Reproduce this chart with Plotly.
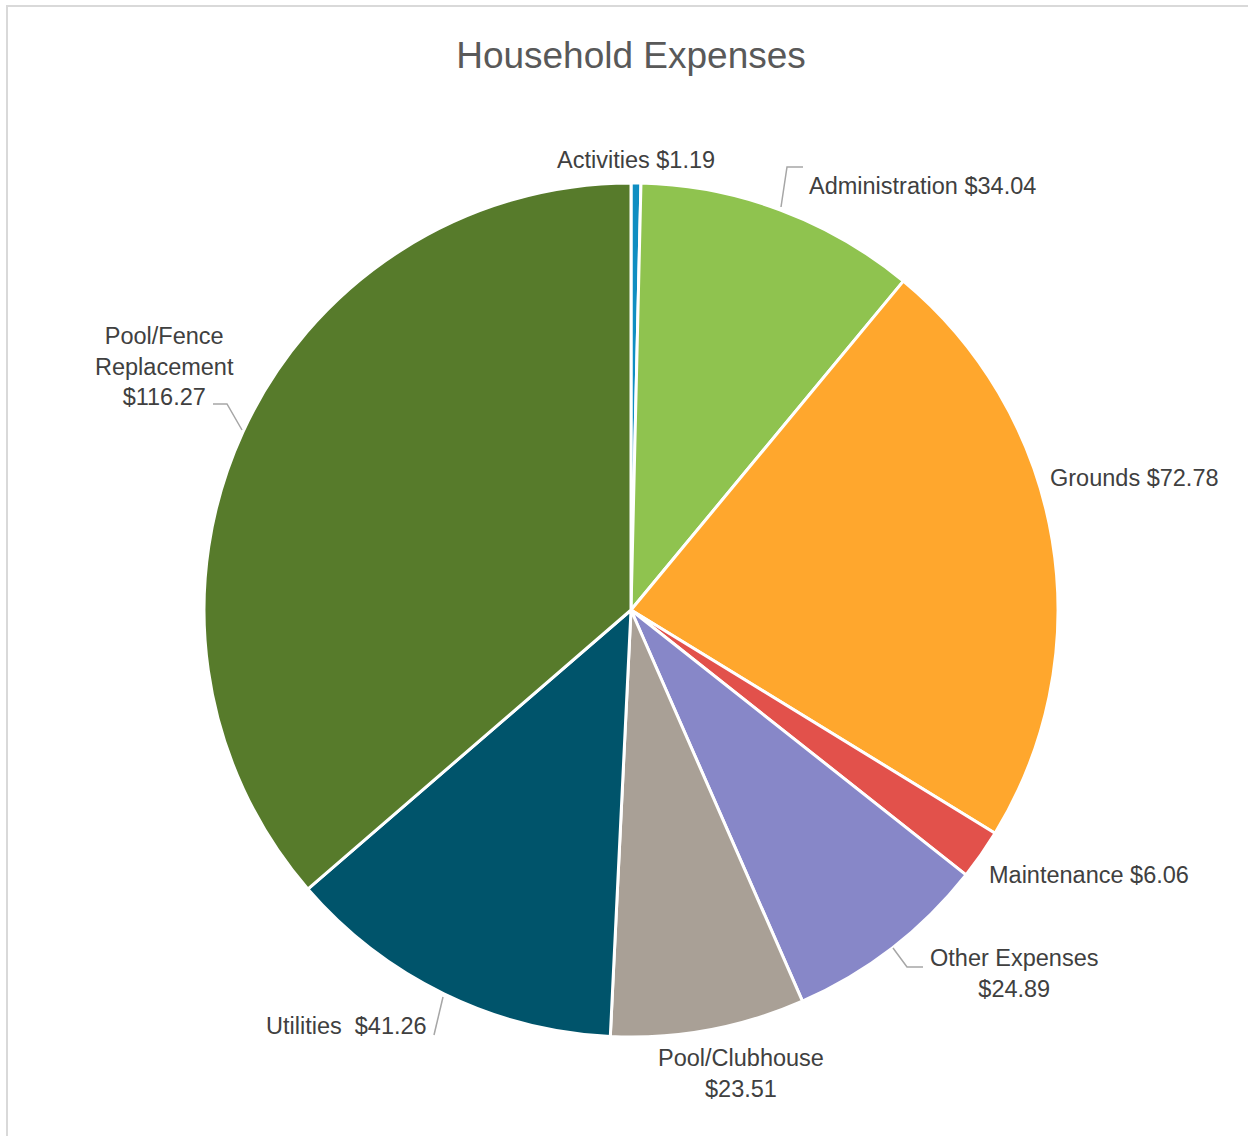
import plotly.graph_objects as go

categories = ["Activities", "Administration", "Grounds", "Maintenance",
              "Other Expenses", "Pool/Clubhouse", "Utilities", "Pool/Fence Replacement"]
values = [1.19, 34.04, 72.78, 6.06, 24.89, 23.51, 41.26, 116.27]
colors = ["#0f8ec2", "#8fc34f", "#ffa72d", "#e2514b", "#8787c8", "#a9a096", "#00546b", "#577b2b"]

# label texts (as shown on the chart)
label_texts = ["Activities $1.19", "Administration $34.04", "Grounds $72.78",
               "Maintenance $6.06", "Other Expenses<br>$24.89", "Pool/Clubhouse<br>$23.51",
               "Utilities\u00a0\u00a0$41.26", "Pool/Fence<br>Replacement<br>$116.27"]

W, H = 1248, 1136
L, T, PW, PH = 204, 182, 854, 856
R, B = W - L - PW, H - T - PH


def px(x):
    return (x - L) / PW


def py(y):
    return 1 - (y - T) / PH


fig = go.Figure(go.Pie(
    labels=categories, values=values, sort=False, direction="clockwise", rotation=0,
    marker=dict(colors=colors, line=dict(color="white", width=3)),
    textinfo="none", hoverinfo="label+value", showlegend=False,
))

# label placement (pixel anchors) and leader lines
label_pos = [(636, 160, "center"), (807, 186, "left"), (1048, 478, "left"),
             (987, 875, "left"), (1014, 973, "center"), (741, 1073, "center"),
             (264, 1026, "left"), (164, 366, "center")]
leaders = [
    [(781, 207), (787, 167), (803, 167)],
    [(893, 948), (907, 967), (923, 967)],
    [(443, 997), (434, 1035)],
    [(242, 430), (227, 404), (213, 404)],
]

annotations = []
for txt, (x, y, anc) in zip(label_texts, label_pos):
    annotations.append(dict(
        text=txt, x=px(x), y=py(y), xref="paper", yref="paper",
        xanchor=anc, yanchor="middle", align="center", showarrow=False,
        font=dict(family="Liberation Sans, Arial, sans-serif", size=23.5, color="#404040"),
    ))

shapes = []
for pts in leaders:
    path = "M " + " L ".join(f"{px(a)},{py(b)}" for a, b in pts)
    shapes.append(dict(type="path", path=path, xref="paper", yref="paper",
                       line=dict(color="#a6a6a6", width=1.5)))

# outer chart border
shapes.append(dict(type="rect", xref="paper", yref="paper",
                   x0=px(7), x1=px(1262), y0=py(6), y1=py(1150),
                   line=dict(color="#d9d9d9", width=2), fillcolor="rgba(0,0,0,0)", layer="below"))

fig.update_layout(
    width=W, height=H,
    margin=dict(l=L, r=R, t=T, b=B),
    paper_bgcolor="white", plot_bgcolor="white",
    title=dict(text="Household Expenses", x=0.5, xref="paper", xanchor="center",
               y=1 - 55 / H, yref="container", yanchor="middle",
               font=dict(family="Liberation Sans, Arial, sans-serif", size=37, color="#595959")),
    annotations=annotations,
    shapes=shapes,
)

fig.write_html("out.html")
